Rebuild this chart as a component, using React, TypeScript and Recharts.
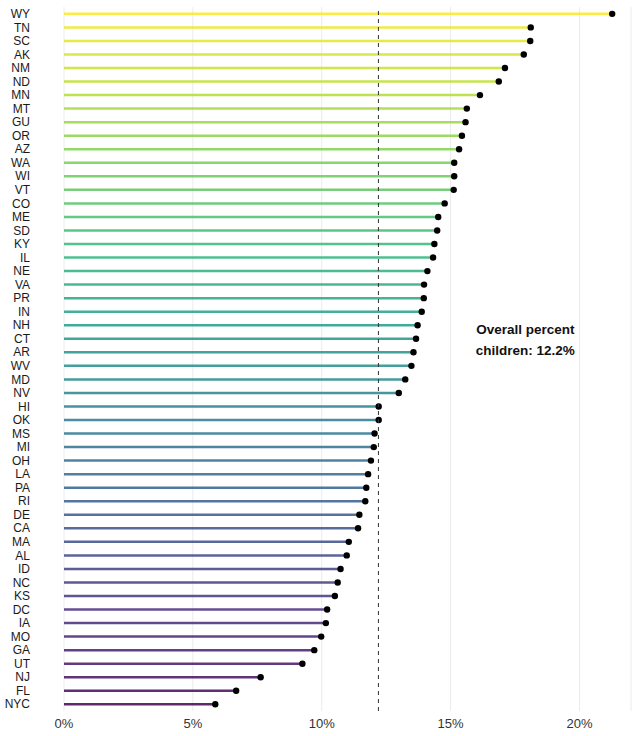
import React from 'react';
import { ComposedChart, Bar, XAxis, YAxis, CartesianGrid, ReferenceLine, ReferenceDot } from 'recharts';

const states = ['WY','TN','SC','AK','NM','ND','MN','MT','GU','OR','AZ','WA','WI','VT','CO','ME','SD','KY','IL','NE','VA','PR','IN','NH','CT','AR','WV','MD','NV','HI','OK','MS','MI','OH','LA','PA','RI','DE','CA','MA','AL','ID','NC','KS','DC','IA','MO','GA','UT','NJ','FL','NYC'];
const percentChildren = [21.27,18.11,18.09,17.84,17.11,16.87,16.14,15.63,15.58,15.44,15.33,15.14,15.14,15.12,14.77,14.52,14.48,14.37,14.32,14.10,13.97,13.96,13.88,13.72,13.66,13.56,13.48,13.24,12.99,12.21,12.21,12.05,12.02,11.91,11.80,11.73,11.69,11.46,11.41,11.05,10.97,10.73,10.62,10.51,10.21,10.16,9.98,9.71,9.25,7.63,6.68,5.87];
const xTicks = [0, 5, 10, 15, 20];
const overallPercent = 12.2;
const annotationLines = ['Overall percent', 'children: 12.2%'];
const annotationAnchor = { x: 17.9, state: 'CT' };

const data = states.map((s, i) => ({ state: s, value: percentChildren[i] }));

const VIRIDIS = ['#440154','#482878','#3e4989','#31688e','#26828e','#1f9e89','#35b779','#6ece58','#b5de2b','#fde725'];
function hexToRgb(h: string) {
  return [parseInt(h.slice(1, 3), 16), parseInt(h.slice(3, 5), 16), parseInt(h.slice(5, 7), 16)];
}
function viridis(t: number) {
  const p = Math.max(0, Math.min(1, t)) * (VIRIDIS.length - 1);
  const i = Math.min(Math.floor(p), VIRIDIS.length - 2);
  const f = p - i;
  const a = hexToRgb(VIRIDIS[i]);
  const b = hexToRgb(VIRIDIS[i + 1]);
  const c = a.map((v, k) => Math.round(v + (b[k] - v) * f));
  return `rgb(${c[0]},${c[1]},${c[2]})`;
}

const Lollipop = (props: any) => {
  const { x, y, width, height, payload } = props;
  const idx = states.indexOf(payload?.state);
  const t = 1 - idx / (states.length - 1);
  const color = viridis(t);
  const cy = y + height / 2;
  return (
    <g>
      <line x1={x} x2={x + width} y1={cy} y2={cy} stroke={color} strokeOpacity={0.85} strokeWidth={2.5} />
      <circle cx={x + width} cy={cy} r={3.2} fill="#000" />
    </g>
  );
};

const Annotation = (props: any) => {
  const { cx, cy } = props;
  return (
    <text
      x={cx}
      y={cy}
      textAnchor="middle"
      fontFamily="'Liberation Sans', Arial, sans-serif"
      fontWeight="bold"
      fontSize={13.5}
      fill="#111"
    >
      <tspan x={cx} y={cy - 5}>{annotationLines[0]}</tspan>
      <tspan x={cx} y={cy + 16}>{annotationLines[1]}</tspan>
    </text>
  );
};

export default function App() {
  return (
    <div style={{ position: 'absolute', left: 0, top: 0, background: '#fff' }}>
      <ComposedChart
        width={640}
        height={736}
        data={data}
        layout="vertical"
        margin={{ top: 7, right: 9, bottom: 0, left: 0 }}
      >
        <CartesianGrid horizontal={false} vertical={true} stroke="#ebebeb" strokeWidth={1} />
        <XAxis
          type="number"
          dataKey="value"
          domain={[0, 22]}
          ticks={xTicks}
          tickFormatter={(v: number) => `${v}%`}
          axisLine={false}
          tickLine={false}
          tickSize={0}
          tickMargin={8}
          height={25}
          allowDataOverflow
          tick={{ fontSize: 13, fill: '#333', fontFamily: "'Liberation Sans', Arial, sans-serif" }}
        />
        <YAxis
          type="category"
          dataKey="state"
          width={64}
          axisLine={false}
          tickLine={false}
          tickSize={0}
          tickMargin={34}
          interval={0}
          tick={{ fontSize: 12, fill: '#1a1a1a', fontFamily: "'Liberation Sans', Arial, sans-serif" }}
        />
        <ReferenceLine x={overallPercent} stroke="#333" strokeDasharray="4 4" strokeWidth={1} />
        <Bar dataKey="value" shape={<Lollipop />} isAnimationActive={false} />
        <ReferenceDot x={annotationAnchor.x} y={annotationAnchor.state} r={0} shape={<Annotation />} />
      </ComposedChart>
    </div>
  );
}
